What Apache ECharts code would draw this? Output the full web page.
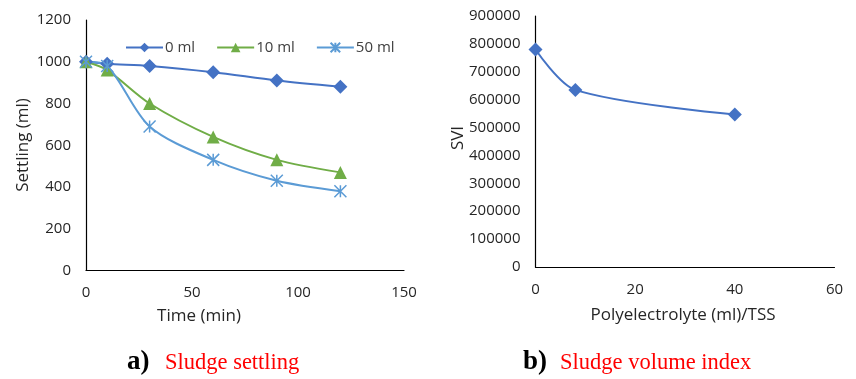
<!DOCTYPE html>
<html>
<head>
<meta charset="utf-8">
<script src="https://cdn.jsdelivr.net/npm/echarts@6/dist/echarts.min.js"></script>
<style>
  html, body { margin: 0; padding: 0; background: #fff; }
  #chart { width: 856px; height: 379px; }
</style>
</head>
<body>
<div id="chart"></div>
<script>
// Settling test: sample times and volumes for each polyelectrolyte dose
const timeMin = [0, 10, 30, 60, 90, 120];
const settling0ml = [1000, 990, 980, 950, 910, 880];
const settling10ml = [1000, 960, 800, 640, 530, 470];
const settling50ml = [1000, 980, 690, 530, 430, 380];
const seriesNames = ['0 ml', '10 ml', '50 ml'];

// Sludge volume index against dose per TSS
const dosePerTss = [0, 8, 40];
const sviValues = [780000, 635000, 547000];

const pair = (xs, ys) => xs.map((x, i) => [x, ys[i]]);

const AXIS_FONT = '"Open Sans", "Noto Sans", sans-serif';
const SERIF = '"Liberation Serif", "DejaVu Serif", serif';
const TEXT = '#262626';
const SMOOTH = 0.3;

const starPath = 'path://M0,0L10,10M10,0L0,10M5,0L5,10';

function valueAxis(gridIndex, min, max, interval) {
  return {
    type: 'value', gridIndex, min, max, interval,
    axisLine: { show: true, lineStyle: { color: '#000', width: 1.2 } },
    axisTick: { show: false },
    splitLine: { show: false },
    axisLabel: {
      color: TEXT, fontFamily: AXIS_FONT, fontSize: 15, margin: 15,
      formatter: (v) => String(v)
    }
  };
}

const chart = echarts.init(document.getElementById('chart'), null, { renderer: 'canvas' });

chart.setOption({
  animation: false,
  backgroundColor: '#fff',
  grid: [
    { left: 86, top: 20, width: 318, height: 250.5 },
    { left: 535.5, top: 16, width: 299, height: 251 }
  ],
  xAxis: [
    valueAxis(0, 0, 150, 50),
    valueAxis(1, 0, 60, 20)
  ],
  yAxis: [
    valueAxis(0, 0, 1200, 200),
    valueAxis(1, 0, 900000, 100000)
  ],
  legend: {
    data: seriesNames,
    left: 120, top: 35,
    itemWidth: 37, itemHeight: 12, itemGap: 21,
    textStyle: { color: '#404040', fontFamily: AXIS_FONT, fontSize: 15, padding: [0, 0, 0, -3] }
  },
  series: [
    {
      name: seriesNames[0], type: 'line', xAxisIndex: 0, yAxisIndex: 0,
      data: pair(timeMin, settling0ml), smooth: SMOOTH,
      symbol: 'diamond', symbolSize: 14,
      lineStyle: { color: '#4472C4', width: 2 },
      itemStyle: { color: '#4472C4' }
    },
    {
      name: seriesNames[1], type: 'line', xAxisIndex: 0, yAxisIndex: 0,
      data: pair(timeMin, settling10ml), smooth: SMOOTH,
      symbol: 'triangle', symbolSize: 13,
      lineStyle: { color: '#70AD47', width: 2 },
      itemStyle: { color: '#70AD47' }
    },
    {
      name: seriesNames[2], type: 'line', xAxisIndex: 0, yAxisIndex: 0,
      data: pair(timeMin, settling50ml), smooth: SMOOTH,
      symbol: starPath, symbolSize: 12,
      lineStyle: { color: '#5B9BD5', width: 2 },
      itemStyle: { color: 'rgba(0,0,0,0)', borderColor: '#5B9BD5', borderWidth: 1.5 }
    },
    {
      name: 'SVI', type: 'line', xAxisIndex: 1, yAxisIndex: 1,
      data: pair(dosePerTss, sviValues), smooth: SMOOTH,
      symbol: 'diamond', symbolSize: 14,
      lineStyle: { color: '#4472C4', width: 2 },
      itemStyle: { color: '#4472C4' }
    }
  ],
  graphic: [
    // axis titles
    { type: 'text', x: 199, y: 316, style: { text: 'Time (min)', font: '17px ' + AXIS_FONT, fill: TEXT, align: 'center', verticalAlign: 'middle' } },
    { type: 'text', x: 23, y: 145, rotation: Math.PI / 2, style: { text: 'Settling (ml)', font: '17px ' + AXIS_FONT, fill: TEXT, align: 'center', verticalAlign: 'middle' } },
    { type: 'text', x: 683, y: 315, style: { text: 'Polyelectrolyte (ml)/TSS', font: '17px ' + AXIS_FONT, fill: TEXT, align: 'center', verticalAlign: 'middle' } },
    { type: 'text', x: 458, y: 138, rotation: Math.PI / 2, style: { text: 'SVI', font: '17px ' + AXIS_FONT, fill: TEXT, align: 'center', verticalAlign: 'middle' } },
    // panel captions
    { type: 'text', x: 127, y: 362, style: { text: 'a)', font: 'bold 27px ' + SERIF, fill: '#000', align: 'left', verticalAlign: 'middle' } },
    { type: 'text', x: 165, y: 363, style: { text: 'Sludge settling', font: '22.5px ' + SERIF, fill: '#ff0000', align: 'left', verticalAlign: 'middle' } },
    { type: 'text', x: 523, y: 362, style: { text: 'b)', font: 'bold 27px ' + SERIF, fill: '#000', align: 'left', verticalAlign: 'middle' } },
    { type: 'text', x: 560, y: 363, style: { text: 'Sludge volume index', font: '22.5px ' + SERIF, fill: '#ff0000', align: 'left', verticalAlign: 'middle' } }
  ]
});
</script>
</body>
</html>
